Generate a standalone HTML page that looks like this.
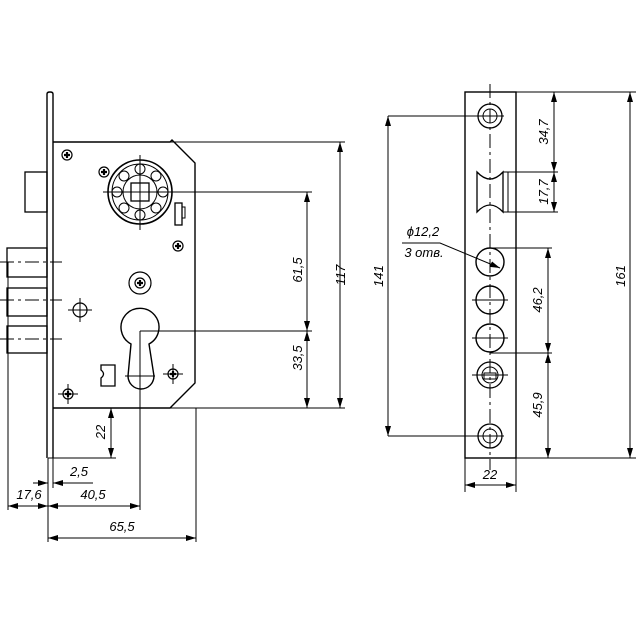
<!DOCTYPE html>
<html><head><meta charset="utf-8"><style>body{margin:0;background:#fff}svg{display:block}text{font-family:"Liberation Sans",sans-serif;font-style:italic;font-size:13px;fill:#000}</style></head><body>
<svg width="640" height="640" viewBox="0 0 640 640" xmlns="http://www.w3.org/2000/svg">
<defs><marker id="a" viewBox="0 0 10 6" refX="10" refY="3" markerWidth="10" markerHeight="6" orient="auto-start-reverse" markerUnits="userSpaceOnUse"><path d="M0,0 L10,3 L0,6z" fill="#000"/></marker>
<g id="s"><circle r="5" fill="none" stroke="#000" stroke-width="1.2"/><path d="M-3,0 H3 M0,-3 V3" stroke="#000" stroke-width="2.2"/></g></defs>
<g stroke="#000" fill="none" stroke-width="1">
<path d="M47,458 V94 Q47,92 50,92 Q53,92 53,94 V458" stroke-width="1.4"/>
<path d="M53,142 H170 L172,140 L192,160 L195,163 V383 L192,386 L172,406 L170,408 H53" stroke-width="1.4"/>
<path d="M170,142 H345 M170,408 H345" />
<rect x="25" y="172" width="22" height="40" stroke-width="1.3"/>
<rect x="7" y="248" width="40" height="29" stroke-width="1.3"/>
<rect x="7" y="288" width="40" height="28" stroke-width="1.3"/>
<rect x="7" y="326" width="40" height="27" stroke-width="1.3"/>
<path d="M0,262 H62 M0,300 H62 M0,339 H62" stroke-dasharray="14,4,3,4"/>
<circle cx="140" cy="192" r="32" stroke-width="1.6"/>
<circle cx="140" cy="192" r="28"/>
<circle cx="140" cy="192" r="17"/>
<rect x="131" y="183" width="18" height="18" stroke-width="1.3"/>
<path d="M140,183 V201 M131,192 H149 M140,155 V230 M103,192 H312"/>
<g stroke-width="1">
<circle cx="163" cy="192" r="5"/><circle cx="117" cy="192" r="5"/><circle cx="140" cy="169" r="5"/><circle cx="140" cy="215" r="5"/>
<circle cx="156" cy="176" r="5"/><circle cx="124" cy="176" r="5"/><circle cx="156" cy="208" r="5"/><circle cx="124" cy="208" r="5"/>
</g>
<rect x="175" y="203" width="7" height="22" stroke-width="1.3"/><path d="M182,207 H185 V218 H182"/>
<circle cx="140" cy="283" r="11" stroke-width="1.2"/>
<circle cx="80" cy="310" r="7" stroke-width="1.2"/>
<path d="M80,298 V322 M68,310 H92 M173,364 V384 M163,374 H183 M68,384 V404 M58,394 H78"/>
<path d="M131,344 A19,19 0 1 1 149,344 L154,376 A13,13 0 0 1 128,376 Z" stroke-width="1.4"/>
<path d="M140,331 V510 M125,376 H155 M140,331 H312"/>
<path d="M101,365 H115 V386 H101 V378 Q106,374 101,370 Z" stroke-width="1.3"/>
<path d="M340,142 V408" marker-start="url(#a)" marker-end="url(#a)"/>
<path d="M307,192 V331" marker-start="url(#a)" marker-end="url(#a)"/>
<path d="M307,331 V408" marker-start="url(#a)" marker-end="url(#a)"/>
<path d="M111,408 V458" marker-start="url(#a)" marker-end="url(#a)"/>
<path d="M48,458 H116 M48,458 V542 M196,408 V542 M8,262 V510 M53,458 V488"/>
<path d="M33,483 H48" marker-end="url(#a)"/><path d="M68,483 H53" marker-end="url(#a)"/><path d="M53,483 H93"/>
<path d="M8,506 H48" marker-start="url(#a)" marker-end="url(#a)"/>
<path d="M48,506 H140" marker-start="url(#a)" marker-end="url(#a)"/>
<path d="M48,538 H196" marker-start="url(#a)" marker-end="url(#a)"/>
<rect x="465" y="92" width="51" height="366" stroke-width="1.4"/>
<path d="M490,84 V470" stroke-dasharray="14,4,3,4"/>
<circle cx="490" cy="116" r="12" stroke-width="1.3"/><circle cx="490" cy="116" r="7"/>
<circle cx="490" cy="436" r="12" stroke-width="1.3"/><circle cx="490" cy="436" r="7"/>
<path d="M476,116 H504 M476,436 H504"/>
<path d="M477,172 Q490,186 503,172 V212 Q490,198 477,212 Z" stroke-width="1.3"/>
<path d="M503,172 H508 V212 H503"/>
<circle cx="490" cy="262" r="14" stroke-width="1.4"/>
<circle cx="490" cy="300" r="14" stroke-width="1.4"/>
<circle cx="490" cy="338" r="14" stroke-width="1.4"/>
<path d="M472,300 H508 M472,338 H508 M472,375 H508"/>
<circle cx="490" cy="375" r="13" stroke-width="1.3"/><circle cx="490" cy="375" r="8"/>
<rect x="484" y="373" width="12" height="6"/>
<path d="M388,116 H478 M388,436 H478 M516,92 H636 M516,458 H636 M505,172 H558 M505,212 H558 M490,248 H552 M490,353 H552"/>
<path d="M388,116 V436" marker-start="url(#a)" marker-end="url(#a)"/>
<path d="M630,92 V458" marker-start="url(#a)" marker-end="url(#a)"/>
<path d="M554,92 V172" marker-start="url(#a)" marker-end="url(#a)"/>
<path d="M554,172 V212" marker-start="url(#a)" marker-end="url(#a)"/>
<path d="M548,248 V353" marker-start="url(#a)" marker-end="url(#a)"/>
<path d="M548,353 V458" marker-start="url(#a)" marker-end="url(#a)"/>
<path d="M465,458 V492 M516,458 V492"/>
<path d="M465,485 H516" marker-start="url(#a)" marker-end="url(#a)"/>
<path d="M402,243 H440 L500,268" marker-end="url(#a)"/>
</g>
<use href="#s" x="67" y="155"/><use href="#s" x="104" y="172"/><use href="#s" x="178" y="246"/>
<use href="#s" x="173" y="374"/><use href="#s" x="68" y="394"/><use href="#s" x="140" y="283"/>
<g text-anchor="middle">
<text transform="translate(345,275) rotate(-90)">117</text>
<text transform="translate(302,270) rotate(-90)">61,5</text>
<text transform="translate(302,358) rotate(-90)">33,5</text>
<text transform="translate(105,432) rotate(-90)">22</text>
<text x="79" y="476">2,5</text>
<text x="29" y="499">17,6</text>
<text x="93" y="499">40,5</text>
<text x="122" y="531">65,5</text>
<text transform="translate(383,276) rotate(-90)">141</text>
<text transform="translate(625,276) rotate(-90)">161</text>
<text transform="translate(548,132) rotate(-90)">34,7</text>
<text transform="translate(548,192) rotate(-90)">17,7</text>
<text transform="translate(542,300) rotate(-90)">46,2</text>
<text transform="translate(542,405) rotate(-90)">45,9</text>
<text x="490" y="479">22</text>
<text x="423" y="236">ϕ12,2</text>
<text x="424" y="257">3 отв.</text>
</g>
</svg>
</body></html>
